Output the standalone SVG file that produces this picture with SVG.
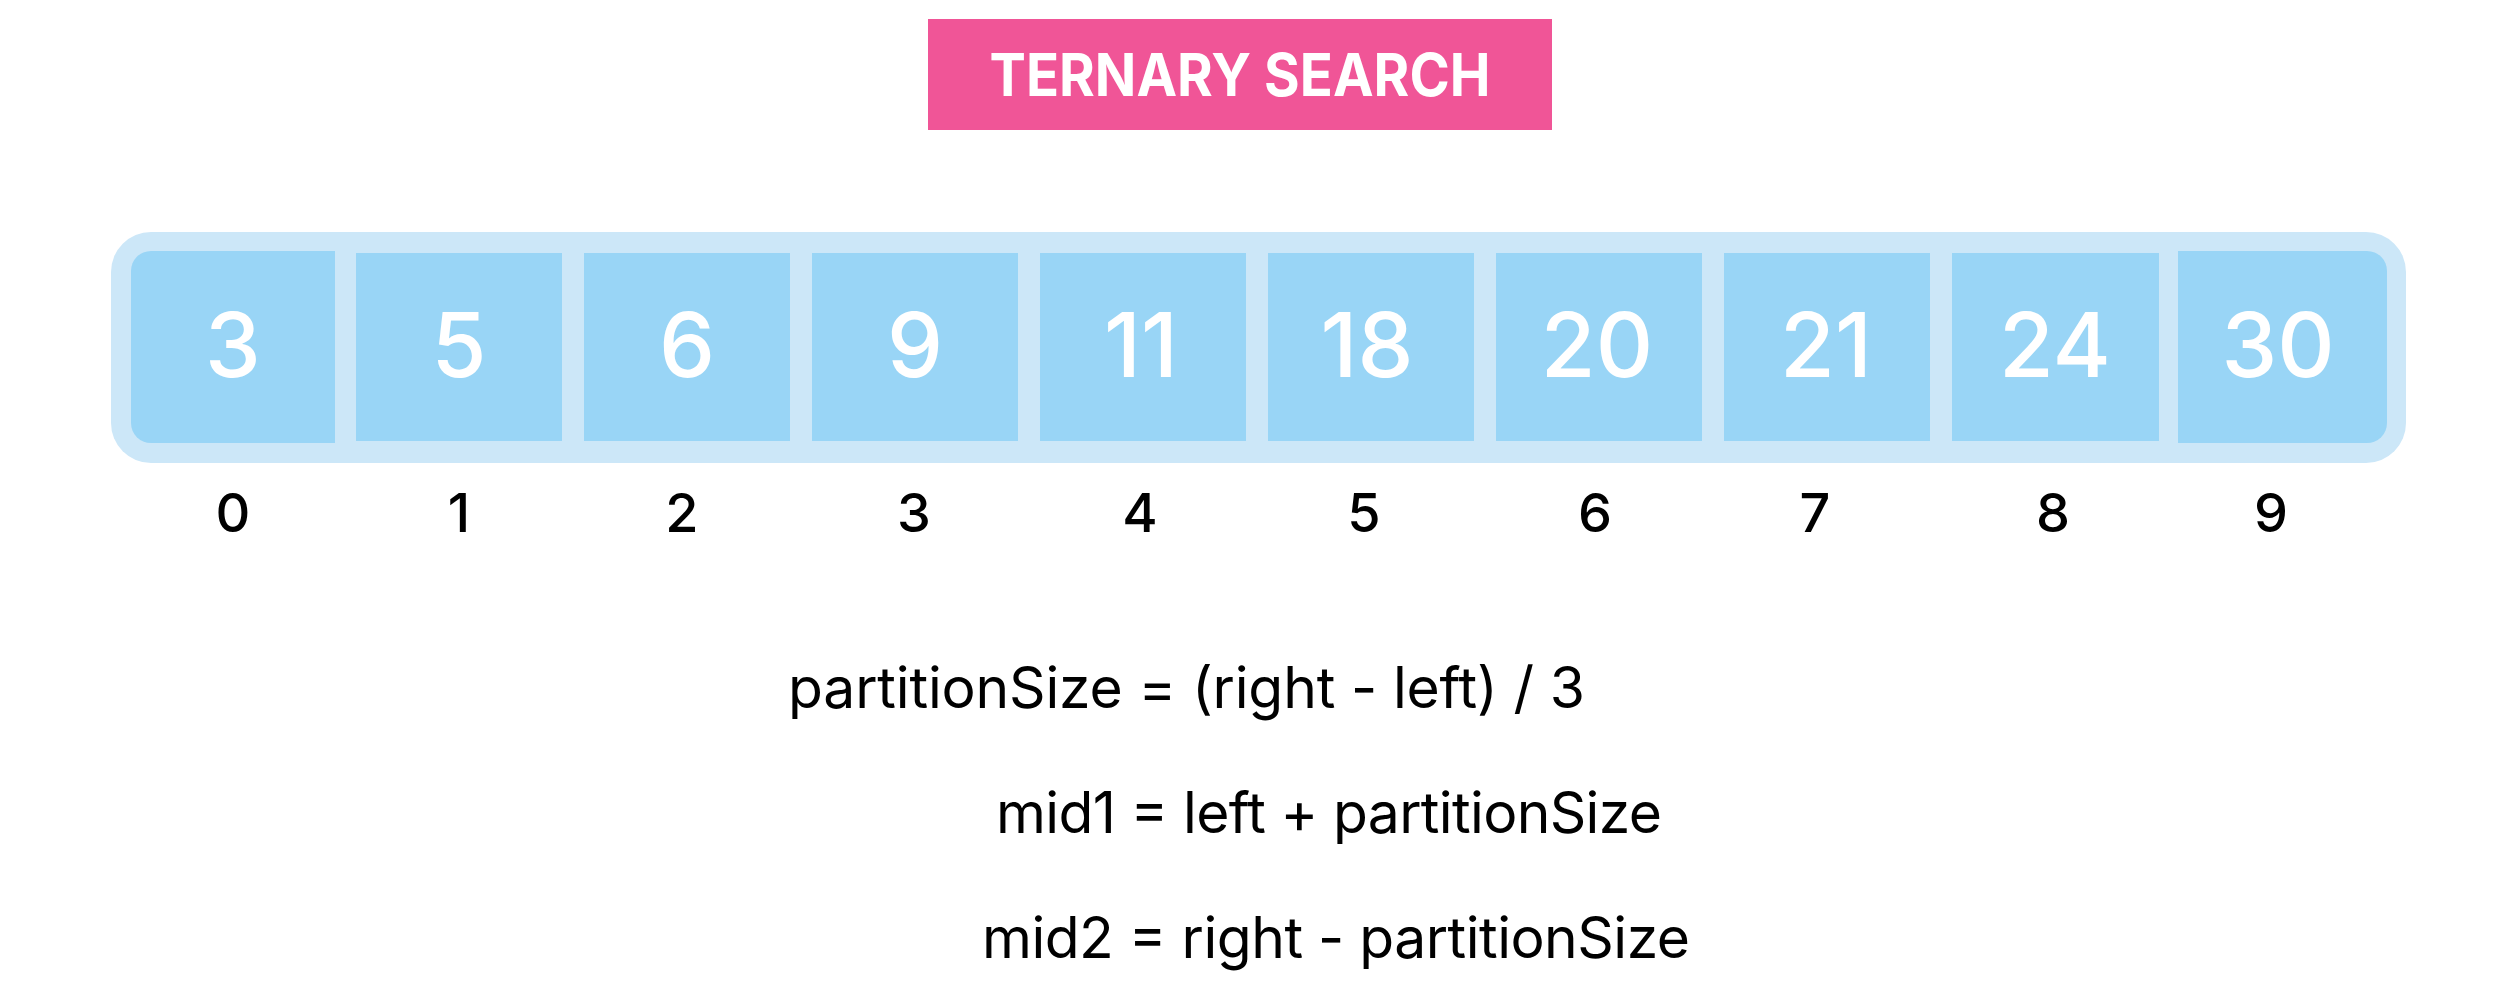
<svg xmlns="http://www.w3.org/2000/svg" width="2508" height="1006" viewBox="0 0 2508 1006">
<style>
.cell{fill:#99D5F6}
.val{font-family:Inter,"Liberation Sans",sans-serif;font-size:89px;font-weight:500;fill:#FFFFFF;text-anchor:middle}
.idx{font-family:Inter,"Liberation Sans",sans-serif;font-size:54px;font-weight:500;fill:#000000;text-anchor:middle}
.formula{font-family:Inter,"Liberation Sans",sans-serif;font-size:57px;fill:#000000}
</style>
<rect width="2508" height="1006" fill="#FFFFFF"/>
<g id="title">
<rect x="928" y="19" width="624" height="111" fill="#F05597"/>
<text x="1240" y="96" text-anchor="middle" font-family="Inter,'Liberation Sans',sans-serif" font-size="59" font-weight="700" fill="#FFFFFF" textLength="501" lengthAdjust="spacingAndGlyphs">TERNARY SEARCH</text>
</g>
<g id="array">
<rect x="111" y="232" width="2295" height="231" rx="40" ry="40" fill="#CCE7F8"/>
<g id="cell0"><path class="cell" d="M335 251 V443 H151 A20 20 0 0 1 131 423 V271 A20 20 0 0 1 151 251 Z"/><text class="val" x="233" y="377">3</text><text class="idx" x="233" y="532">0</text></g>
<g id="cell1"><rect class="cell" x="356" y="253" width="206" height="188"/><text class="val" x="459" y="377">5</text><text class="idx" x="459" y="532">1</text></g>
<g id="cell2"><rect class="cell" x="584" y="253" width="206" height="188"/><text class="val" x="687" y="377">6</text><text class="idx" x="682" y="532">2</text></g>
<g id="cell3"><rect class="cell" x="812" y="253" width="206" height="188"/><text class="val" x="915" y="377">9</text><text class="idx" x="914" y="532">3</text></g>
<g id="cell4"><rect class="cell" x="1040" y="253" width="206" height="188"/><text class="val" x="1141" y="377">11</text><text class="idx" x="1140" y="532">4</text></g>
<g id="cell5"><rect class="cell" x="1268" y="253" width="206" height="188"/><text class="val" x="1367" y="377">18</text><text class="idx" x="1364" y="532">5</text></g>
<g id="cell6"><rect class="cell" x="1496" y="253" width="206" height="188"/><text class="val" x="1597" y="377">20</text><text class="idx" x="1595" y="532">6</text></g>
<g id="cell7"><rect class="cell" x="1724" y="253" width="206" height="188"/><text class="val" x="1826" y="377">21</text><text class="idx" x="1815" y="532">7</text></g>
<g id="cell8"><rect class="cell" x="1952" y="253" width="207" height="188"/><text class="val" x="2055" y="377">24</text><text class="idx" x="2053" y="532">8</text></g>
<g id="cell9"><path class="cell" d="M2178 251 H2367 A20 20 0 0 1 2387 271 V423 A20 20 0 0 1 2367 443 H2178 Z"/><text class="val" x="2278" y="377">30</text><text class="idx" x="2271" y="532">9</text></g>
</g>
<g id="formulas">
<text class="formula" x="788" y="708" textLength="797" lengthAdjust="spacing">partitionSize = (right - left) / 3</text>
<text class="formula" x="996" y="833" textLength="666" lengthAdjust="spacing">mid1 = left + partitionSize</text>
<text class="formula" x="982" y="958" textLength="708" lengthAdjust="spacing">mid2 = right - partitionSize</text>
</g>
</svg>
